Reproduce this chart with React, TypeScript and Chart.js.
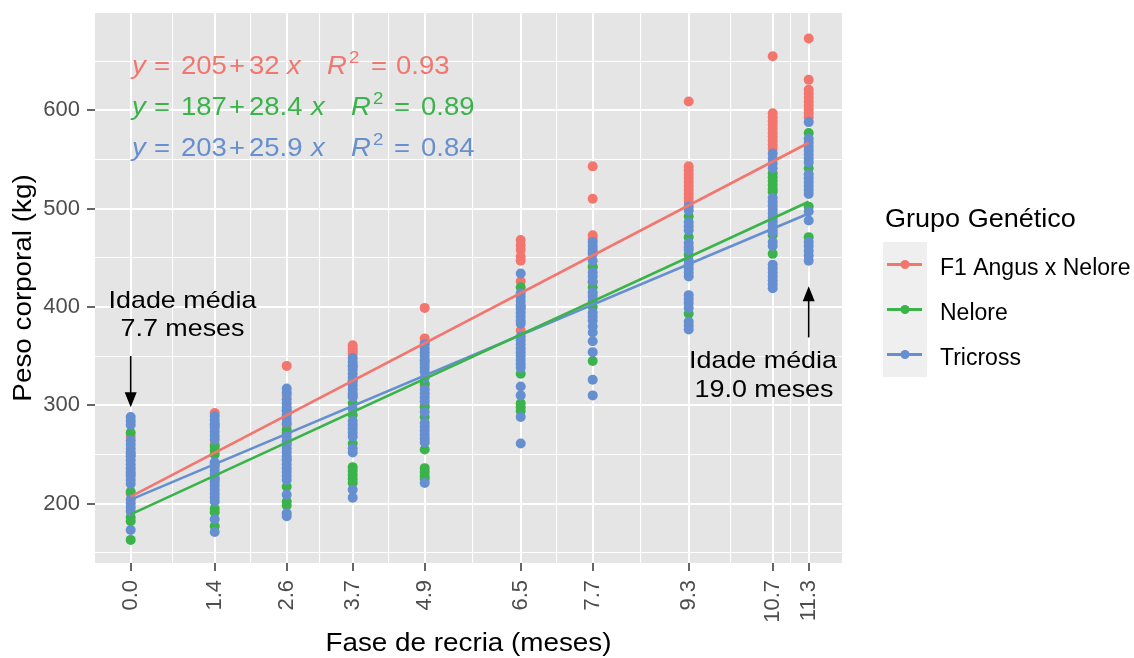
import React, { useEffect, useRef } from 'react';
import { Chart, registerables } from 'chart.js';

Chart.register(...registerables);

// ---------------- data ----------------
const groupNames = ['F1 Angus x Nelore', 'Nelore', 'Tricross'];
const groupColors = ['#F2766E', '#3AB34A', '#668FD0'];

const phaseMonths = [0.0, 1.4, 2.6, 3.7, 4.9, 6.5, 7.7, 9.3, 10.7, 11.3];
const phaseMinorBreaks = [0.7, 2.0, 3.15, 4.3, 5.7, 7.1, 8.5, 10.0, 11.0];
const weightBreaks = [200, 300, 400, 500, 600];
const weightMinorBreaks = [150, 250, 350, 450, 550, 650];

// body weight (kg) per phase, one list per phase
const f1Weights = [
  [268, 250, 230, 210],
  [292, 280, 260, 240, 225],
  [340, 310, 295, 280, 262, 245],
  [361, 358, 355, 352, 340, 325, 310],
  [399, 368, 364, 345, 320, 300],
  [468, 463, 458, 451, 447, 426, 400, 376],
  [543, 510, 473, 469, 455, 440, 425],
  [609, 543, 539, 535, 531, 527, 523, 519, 515, 511, 507],
  [655, 597, 593, 589, 585, 581, 577, 573, 569, 565, 561],
  [673, 631, 621, 617, 613, 609, 605, 601, 597, 593],
];
const neloreWeights = [
  [272, 212, 186, 182, 163],
  [258, 254, 250, 195, 191, 177],
  [275, 272, 217, 202, 198],
  [302, 290, 261, 237, 233, 229, 225, 221],
  [322, 298, 288, 255, 236, 232, 228, 225],
  [420, 332, 302, 298, 294],
  [441, 420, 400, 345],
  [492, 471, 453, 393],
  [536, 532, 528, 524, 520, 517, 473, 454],
  [577, 541, 502, 471],
];
const tricrossWeights = [
  [288, 284, 280, 264, 260, 256, 252, 248, 244, 240, 236, 232, 228, 224, 220, 204, 200, 196, 192, 173],
  [289, 285, 281, 277, 273, 269, 265, 242, 238, 234, 230, 226, 222, 218, 214, 210, 206, 202, 184, 171],
  [317, 313, 306, 302, 298, 294, 290, 286, 282, 268, 264, 260, 256, 252, 248, 244, 240, 236, 232, 228, 224, 209, 190, 187],
  [348, 344, 340, 336, 332, 328, 324, 320, 316, 312, 308, 296, 284, 280, 276, 272, 268, 256, 252, 214, 206],
  [362, 358, 354, 350, 346, 342, 338, 334, 328, 316, 312, 308, 304, 293, 282, 278, 274, 270, 266, 262, 221],
  [434, 414, 410, 406, 402, 398, 394, 390, 386, 383, 370, 366, 362, 358, 354, 350, 346, 342, 338, 319, 310, 288, 261],
  [466, 462, 458, 454, 447, 435, 431, 426, 415, 411, 406, 394, 390, 386, 380, 374, 365, 354, 326, 310],
  [502, 498, 486, 482, 478, 465, 461, 458, 447, 443, 439, 435, 431, 412, 408, 404, 399, 385, 381, 377],
  [556, 551, 546, 541, 511, 507, 503, 499, 495, 491, 487, 483, 479, 476, 466, 462, 443, 439, 435, 431, 427, 423, 419],
  [588, 571, 567, 563, 559, 555, 551, 547, 535, 531, 527, 523, 519, 515, 497, 488, 466, 462, 457, 452, 447],
];

// fitted regression lines (ends at first and last phase)
const fitMonths = [0.0, 11.3];
const f1Fit = [207, 567];
const neloreFit = [189, 507];
const tricrossFit = [204, 495];

// equation labels
const eqIntercepts = ['205', '187', '203'];
const eqSlopes = ['32', '28.4', '25.9'];
const eqR2 = ['0.93', '0.89', '0.84'];

const FONT = "'Liberation Sans', Arial, sans-serif";

function stretchText(
  ctx: CanvasRenderingContext2D,
  text: string,
  x: number,
  y: number,
  size: number,
  color: string,
  align: CanvasTextAlign = 'left',
  sx = 1,
  italic = false,
  rotate = 0
) {
  ctx.save();
  ctx.translate(x, y);
  if (rotate) ctx.rotate(rotate);
  ctx.scale(sx, 1);
  ctx.font = `${italic ? 'italic ' : ''}${size}px ${FONT}`;
  ctx.fillStyle = color;
  ctx.textAlign = align;
  ctx.textBaseline = 'alphabetic';
  ctx.fillText(text, 0, 0);
  ctx.restore();
}

function arrow(ctx: CanvasRenderingContext2D, x: number, y0: number, y1: number) {
  const dir = y1 > y0 ? 1 : -1;
  const head = 15;
  const half = 6;
  ctx.save();
  ctx.strokeStyle = '#000';
  ctx.fillStyle = '#000';
  ctx.lineWidth = 1.6;
  ctx.beginPath();
  ctx.moveTo(x, y0);
  ctx.lineTo(x, y1 - dir * head * 0.6);
  ctx.stroke();
  ctx.beginPath();
  ctx.moveTo(x, y1);
  ctx.lineTo(x - half, y1 - dir * head);
  ctx.lineTo(x + half, y1 - dir * head);
  ctx.closePath();
  ctx.fill();
  ctx.restore();
}

const decorPlugin = {
  id: 'ggDecor',
  beforeDraw(chart: any) {
    const { ctx, chartArea } = chart;
    ctx.save();
    ctx.fillStyle = '#FFFFFF';
    ctx.fillRect(0, 0, chart.width, chart.height);
    ctx.fillStyle = '#E5E5E5';
    ctx.fillRect(chartArea.left, chartArea.top, chartArea.right - chartArea.left, chartArea.bottom - chartArea.top);
    ctx.restore();
  },
  afterDraw(chart: any) {
    const { ctx, chartArea } = chart;
    const xs = chart.scales.x;
    const ys = chart.scales.y;

    // equations
    const lineBase = [74, 115, 156];
    const posSets = [
      { y: 132, eq: 154, a: 181, plus: 229, b: 249, x: 287, R: 327, two: 349, eq2: 371, r: 396 },
      { y: 132, eq: 154, a: 181, plus: 229, b: 249, x: 311, R: 351, two: 373, eq2: 394, r: 421 },
      { y: 132, eq: 154, a: 181, plus: 229, b: 249, x: 311, R: 351, two: 373, eq2: 394, r: 421 },
    ];
    for (let i = 0; i < 3; i++) {
      const c = groupColors[i];
      const bl = lineBase[i];
      const p = posSets[i];
      const s = 25;
      const sx = 1.1;
      stretchText(ctx, 'y', p.y, bl, s, c, 'left', sx, true);
      stretchText(ctx, '=', p.eq, bl, s, c, 'left', sx);
      stretchText(ctx, eqIntercepts[i], p.a, bl, s, c, 'left', sx);
      stretchText(ctx, '+', p.plus, bl, s, c, 'left', sx);
      stretchText(ctx, eqSlopes[i], p.b, bl, s, c, 'left', sx);
      stretchText(ctx, 'x', p.x, bl, s, c, 'left', sx, true);
      stretchText(ctx, 'R', p.R, bl, s, c, 'left', sx, true);
      stretchText(ctx, '2', p.two, bl - 11, 17, c, 'left', sx);
      stretchText(ctx, '=', p.eq2, bl, s, c, 'left', sx);
      stretchText(ctx, eqR2[i], p.r, bl, s, c, 'left', sx);
    }

    // annotations
    const x0 = xs.getPixelForValue(phaseMonths[0]);
    const xN = xs.getPixelForValue(phaseMonths[phaseMonths.length - 1]);
    stretchText(ctx, 'Idade média', 182.5, 308, 24, '#000', 'center', 1.12);
    stretchText(ctx, '7.7 meses', 182.5, 336, 24, '#000', 'center', 1.12);
    arrow(ctx, x0, ys.getPixelForValue(350), ys.getPixelForValue(298));
    stretchText(ctx, 'Idade média', 763, 368, 24, '#000', 'center', 1.12);
    stretchText(ctx, '19.0 meses', 764, 397, 24, '#000', 'center', 1.12);
    arrow(ctx, xN, ys.getPixelForValue(369), ys.getPixelForValue(421));

    // axis titles
    stretchText(ctx, 'Fase de recria (meses)', (chartArea.left + chartArea.right) / 2, 651, 26, '#000', 'center', 1.07);
    stretchText(ctx, 'Peso corporal (kg)', 31, (chartArea.top + chartArea.bottom) / 2, 26, '#000', 'center', 1.07, false, -Math.PI / 2);

    // legend
    stretchText(ctx, 'Grupo Genético', 885, 227, 26, '#000', 'left', 1.04);
    const keyTop = 242;
    const keyH = 45;
    for (let i = 0; i < 3; i++) {
      const top = keyTop + i * keyH;
      const cy = top + keyH / 2;
      ctx.save();
      ctx.fillStyle = '#EFEFEF';
      ctx.fillRect(883, top, 44, keyH);
      ctx.strokeStyle = groupColors[i];
      ctx.lineWidth = 3;
      ctx.beginPath();
      ctx.moveTo(887, cy);
      ctx.lineTo(922, cy);
      ctx.stroke();
      ctx.fillStyle = groupColors[i];
      ctx.beginPath();
      ctx.arc(905, cy, 4.5, 0, Math.PI * 2);
      ctx.fill();
      ctx.restore();
      stretchText(ctx, groupNames[i], 940, cy + 10.5, 23, '#000', 'left', 1.0);
    }
  },
};

function toPoints(weights: number[][]) {
  return phaseMonths.flatMap((m, i) => weights[i].map((w) => ({ x: m, y: w })));
}
function toLine(vals: number[]) {
  return fitMonths.map((m, i) => ({ x: m, y: vals[i] }));
}

export default function App() {
  const ref = useRef<HTMLCanvasElement | null>(null);

  useEffect(() => {
    if (!ref.current) return;
    const xTicks = [...phaseMonths, ...phaseMinorBreaks].sort((a, b) => a - b);
    const yTicks = [...weightBreaks, ...weightMinorBreaks].sort((a, b) => a - b);
    const isMajorX = (v: number) => phaseMonths.includes(v);
    const isMajorY = (v: number) => weightBreaks.includes(v);

    const lineDs = (vals: number[], color: string) => ({
      type: 'scatter' as const,
      data: toLine(vals),
      showLine: true,
      borderColor: color,
      backgroundColor: color,
      borderWidth: 2.6,
      pointRadius: 0,
    });
    const pointDs = (weights: number[][], color: string) => ({
      type: 'scatter' as const,
      data: toPoints(weights),
      showLine: false,
      backgroundColor: color,
      borderWidth: 0,
      pointRadius: 5,
      pointBorderWidth: 0,
    });

    const chart = new Chart(ref.current, {
      type: 'scatter',
      data: {
        datasets: [
          lineDs(f1Fit, groupColors[0]),
          lineDs(neloreFit, groupColors[1]),
          lineDs(tricrossFit, groupColors[2]),
          pointDs(tricrossWeights, groupColors[2]),
          pointDs(neloreWeights, groupColors[1]),
          pointDs(f1Weights, groupColors[0]),
        ] as any,
      },
      options: {
        responsive: false,
        animation: false,
        devicePixelRatio: 1,
        layout: { padding: { top: 13, right: 292, left: 0, bottom: 0 } },
        plugins: { legend: { display: false }, tooltip: { enabled: false } },
        scales: {
          x: {
            type: 'linear',
            min: -0.595,
            max: 11.855,
            afterBuildTicks: (s: any) => {
              s.ticks = xTicks.map((v) => ({ value: v }));
            },
            afterFit: (s: any) => {
              s.height = 95;
              s.paddingLeft = 0;
              s.paddingRight = 0;
              s.paddingTop = 0;
              s.paddingBottom = 0;
            },
            border: { display: false },
            grid: {
              color: '#FFFFFF',
              lineWidth: (c: any) => (c.tick && isMajorX(c.tick.value) ? 2 : 1.1),
              tickColor: (c: any) => (c.tick && isMajorX(c.tick.value) ? '#333333' : 'rgba(0,0,0,0)'),
              tickLength: 8,
              tickWidth: 1.5,
            },
            ticks: {
              autoSkip: false,
              minRotation: 90,
              maxRotation: 90,
              padding: 9,
              color: '#4D4D4D',
              font: { family: FONT, size: 22 },
              callback: (v: any) => (isMajorX(Number(v)) ? Number(v).toFixed(1) : ''),
            },
          },
          y: {
            type: 'linear',
            min: 139.5,
            max: 699,
            afterBuildTicks: (s: any) => {
              s.ticks = yTicks.map((v) => ({ value: v }));
            },
            afterFit: (s: any) => {
              s.width = 95;
              s.paddingLeft = 0;
              s.paddingRight = 0;
              s.paddingTop = 0;
              s.paddingBottom = 0;
            },
            border: { display: false },
            grid: {
              color: '#FFFFFF',
              lineWidth: (c: any) => (c.tick && isMajorY(c.tick.value) ? 2 : 1.1),
              tickColor: (c: any) => (c.tick && isMajorY(c.tick.value) ? '#333333' : 'rgba(0,0,0,0)'),
              tickLength: 8,
              tickWidth: 1.5,
            },
            ticks: {
              autoSkip: false,
              padding: 7,
              color: '#4D4D4D',
              font: { family: FONT, size: 22 },
              callback: (v: any) => (isMajorY(Number(v)) ? String(v) : ''),
            },
          },
        },
      } as any,
      plugins: [decorPlugin],
    });
    return () => chart.destroy();
  }, []);

  return (
    <div style={{ position: 'absolute', left: 0, top: 0, width: 1134, height: 658 }}>
      <canvas ref={ref} width={1134} height={658} style={{ display: 'block', width: 1134, height: 658 }} />
    </div>
  );
}
